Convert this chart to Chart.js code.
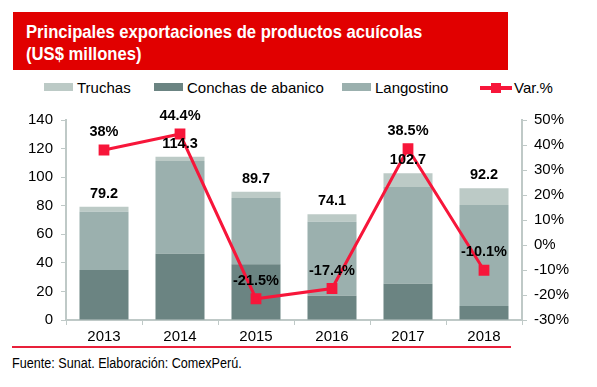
<!DOCTYPE html>
<html>
<head>
<meta charset="utf-8">
<script src="https://cdn.jsdelivr.net/npm/chart.js@4.4.1/dist/chart.umd.min.js"></script>
<style>
    body { margin: 0; background: #fff; font-family: "Liberation Sans", Arial, sans-serif; }
    #page { position: relative; width: 597px; height: 387px; overflow: hidden; }
    #title {
        position: absolute; left: 13px; top: 12px; width: 495px; height: 58px;
        background: #e10000; color: #fff; font-weight: bold; font-size: 19px;
        line-height: 22px; box-sizing: border-box; padding: 9px 0 0 13px;
    }
    #title span { display: inline-block; transform: scaleX(0.875); transform-origin: left; white-space: nowrap; }
    .leg { position: absolute; top: 80px; font-size: 15px; line-height: 16px; color: #000; white-space: nowrap; }
    .box { display: inline-block; width: 29px; height: 8px; vertical-align: 2px; margin-right: 4px; }
    .lmark { display: inline-block; position: relative; width: 32px; height: 10px; vertical-align: 0px; margin-right: 2px; }
    .lmark:before { content: ""; position: absolute; left: 0; right: 0; top: 3px; height: 4px; background: #f7163a; }
    .lmark:after { content: ""; position: absolute; left: 11px; top: 0; width: 10px; height: 10px; background: #f7163a; }
    #wrap { position: absolute; left: 0; top: 100px; width: 597px; height: 246px; }
    #rule { position: absolute; left: 12px; top: 346px; width: 499px; height: 2px; background: #e8203a; }
    #source { position: absolute; left: 12px; top: 355px; font-size: 14px; color: #000;
              transform: scaleX(0.9); transform-origin: left; white-space: nowrap; }
</style>
</head>
<body>
<div id="page">
    <div id="title"><span>Principales exportaciones de productos acuícolas</span><br><span>(US$ millones)</span></div>
    <div class="leg" style="left:44px"><span class="box" style="background:#bccac6"></span>Truchas</div>
    <div class="leg" style="left:154px"><span class="box" style="background:#6b8482"></span>Conchas de abanico</div>
    <div class="leg" style="left:342px"><span class="box" style="background:#9bb0ae"></span>Langostino</div>
    <div class="leg" style="left:480px"><span class="lmark"></span>Var.%</div>
    <div id="wrap"><canvas id="chart" width="597" height="246"></canvas></div>
    <div id="rule"></div>
    <div id="source">Fuente: Sunat. Elaboración: ComexPerú.</div>
</div>
<script>
const years = ['2013', '2014', '2015', '2016', '2017', '2018'];
const conchas = [35.0, 46.4, 39.0, 17.0, 25.4, 9.8];
const langostino = [40.8, 64.9, 46.4, 51.8, 67.7, 70.7];
const truchas = [3.4, 3.0, 4.3, 5.3, 9.6, 11.7];
const totals = [79.2, 114.3, 89.7, 74.1, 102.7, 92.2];
const variation = [38, 44.4, -21.5, -17.4, 38.5, -10.1];
const pctLabels = ['38%', '44.4%', '-21.5%', '-17.4%', '38.5%', '-10.1%'];

const axisGray = '#bfc9c7';
const tickFont = { family: 'Liberation Sans', size: 15 };

// totals above the bars and percentages above the line points
const labelPlugin = {
    id: 'labels',
    afterDatasetsDraw(chart) {
        const ctx = chart.ctx;
        ctx.save();
        ctx.font = 'bold 14.5px "Liberation Sans"';
        ctx.fillStyle = '#000';
        ctx.textAlign = 'center';
        ctx.textBaseline = 'middle';
        const topBars = chart.getDatasetMeta(3).data;
        topBars.forEach((bar, i) => {
            ctx.fillText(totals[i].toFixed(1), bar.x, bar.y - 13);
        });
        const points = chart.getDatasetMeta(0).data;
        points.forEach((pt, i) => {
            ctx.fillText(pctLabels[i], pt.x, pt.y - 18);
        });
        ctx.restore();
    }
};

new Chart(document.getElementById('chart'), {
    data: {
        labels: years,
        datasets: [
            { type: 'line', label: 'Var.%', data: variation, yAxisID: 'y1', order: 0,
              borderColor: '#f7163a', backgroundColor: '#f7163a', borderWidth: 3,
              pointStyle: 'rect', pointRadius: 5.5, pointHoverRadius: 5.5, tension: 0 },
            { type: 'bar', label: 'Conchas de abanico', data: conchas, backgroundColor: '#6b8482',
              stack: 's', yAxisID: 'y', order: 1 },
            { type: 'bar', label: 'Langostino', data: langostino, backgroundColor: '#9bb0ae',
              stack: 's', yAxisID: 'y', order: 1 },
            { type: 'bar', label: 'Truchas', data: truchas, backgroundColor: '#bccac6',
              stack: 's', yAxisID: 'y', order: 1 }
        ]
    },
    options: {
        responsive: false,
        animation: false,
        layout: { padding: { top: 20, left: 0, right: 0, bottom: 0 } },
        datasets: { bar: { categoryPercentage: 1, barPercentage: 0.645 } },
        plugins: { legend: { display: false }, tooltip: { enabled: false } },
        scales: {
            x: {
                stacked: true,
                grid: { drawOnChartArea: false, color: axisGray, tickLength: 5, offset: true },
                border: { color: axisGray, width: 2 },
                ticks: { color: '#000', font: tickFont, padding: 3 },
                afterFit(s) { s.height = 26; }
            },
            y: {
                stacked: true, min: 0, max: 140,
                grid: { drawOnChartArea: false, color: axisGray, tickLength: 5 },
                border: { color: axisGray, width: 2 },
                ticks: { stepSize: 20, color: '#000', font: tickFont, padding: 8 },
                afterFit(s) { s.width = 66; }
            },
            y1: {
                position: 'right', min: -30, max: 50,
                grid: { drawOnChartArea: false, color: axisGray, tickLength: 5 },
                border: { color: axisGray, width: 2 },
                ticks: { stepSize: 10, color: '#000', font: tickFont, padding: 7,
                         callback: v => v + '%' },
                afterFit(s) { s.width = 75; }
            }
        }
    },
    plugins: [labelPlugin]
});
</script>
</body>
</html>
